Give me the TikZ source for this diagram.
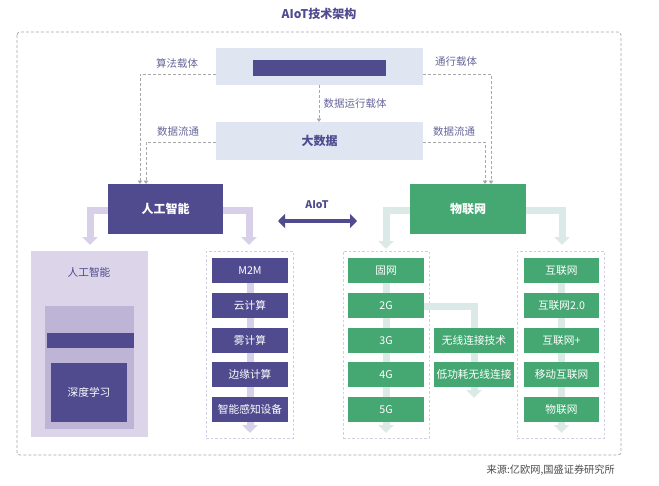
\documentclass[tikz,border=0pt]{standalone}
\usepackage{fontspec}
\setmainfont{Noto Sans CJK SC}
\usetikzlibrary{arrows.meta}
\definecolor{pdark}{HTML}{4F4B8E}
\definecolor{gmain}{HTML}{45A873}
\definecolor{lblue}{HTML}{DFE6F2}
\definecolor{parrow}{HTML}{D8D0E8}
\definecolor{garrow}{HTML}{DCEAE7}
\definecolor{ppanel}{HTML}{DCD4E9}
\definecolor{pinner}{HTML}{BDB4D6}
\definecolor{lbl}{HTML}{66659A}
\definecolor{dgray}{HTML}{A8A8A8}
\definecolor{ldash}{HTML}{D3CCE4}
\tikzset{
  box/.style={inner sep=0pt, outer sep=0pt, anchor=center},
  pitem/.style={box, fill=pdark, text=white, minimum width=76pt, minimum height=25pt, font=\fontsize{10.7}{12}\selectfont},
  gitem/.style={box, fill=gmain, text=white, minimum width=76pt, minimum height=25pt, font=\fontsize{10.7}{12}\selectfont},
  lab/.style={text=lbl, font=\fontsize{10.5}{12}\selectfont, inner sep=0pt},
  hdr/.style={box, text=white, minimum height=50pt, font=\bfseries\fontsize{12}{14}\selectfont},
  conn/.style={draw=dgray, dashed, dash pattern=on 3pt off 2pt, line width=0.8pt, -{Triangle[width=4.5pt,length=3.5pt]}},
  fatp/.style={draw=parrow, line width=7pt, -{Triangle[width=15pt,length=8pt]}},
  fatg/.style={draw=garrow, line width=7pt, -{Triangle[width=15pt,length=8pt]}},
  listbox/.style={box, draw=ldash, dashed, dash pattern=on 2.5pt off 2pt, line width=0.7pt, minimum width=87pt, minimum height=187pt},
}
\begin{document}
\begin{tikzpicture}[x=1pt,y=-1pt]
\useasboundingbox (0,0) rectangle (659,485);
% title
\node[text=pdark, font=\bfseries\fontsize{12}{14}\selectfont, inner sep=0pt] (title) at (319,14) {AIoT技术架构};
% outer frame
\draw[dgray, dashed, dash pattern=on 3pt off 2pt, line width=0.8pt, rounded corners=3pt] (17,32) rectangle (621,455);
% top boxes
\node[box, fill=lblue, minimum width=207pt, minimum height=37pt] (algo) at (319.5,66.5) {};
\node[box, fill=pdark, minimum width=133pt, minimum height=16pt] (algobar) at (319.5,68) {};
\node[box, fill=lblue, minimum width=207pt, minimum height=38pt, text=pdark, font=\bfseries\fontsize{12}{14}\selectfont] (bigdata) at (319.5,141) {大数据};
% header positions
\coordinate (aihc) at (165.5,209); \coordinate (iotc) at (468,209);
% fat arrows from headers (drawn first, headers on top)
\coordinate (fa1) at (90,245); \coordinate (fa2) at (249,245);
\coordinate (fg1) at (386,249); \coordinate (fg2) at (562,245);
\draw[fatp] (aihc |- 0,210) -- (fa1 |- 0,210) -- (fa1);
\draw[fatp] (aihc |- 0,210) -- (fa2 |- 0,210) -- (fa2);
\draw[fatg] (iotc |- 0,210) -- (fg1 |- 0,210) -- (fg1);
\draw[fatg] (iotc |- 0,210) -- (fg2 |- 0,210) -- (fg2);
% headers
\node[hdr, fill=pdark, minimum width=115pt] (aih) at (aihc) {人工智能};
\node[hdr, fill=gmain, minimum width=116pt] (iot) at (iotc) {物联网};
% dashed connectors
\coordinate (c1) at (140,74); \coordinate (c2) at (146,142);
\coordinate (c3) at (491,74); \coordinate (c4) at (485,142);
\draw[conn] (algo.west |- c1) -- (c1) -- (c1 |- aih.north);
\draw[conn] (bigdata.west |- c2) -- (c2) -- (c2 |- aih.north);
\draw[conn] (algo.east |- c3) -- (c3) -- (c3 |- iot.north);
\draw[conn] (bigdata.east |- c4) -- (c4) -- (c4 |- iot.north);
\draw[conn] (algo.south -| 319,0) -- (bigdata.north -| 319,0);
\node[lab] (l1) at (177,63) {算法载体};
\node[lab] (l2) at (456,62) {通行载体};
\node[lab] (l3) at (178,132) {数据流通};
\node[lab] (l4) at (454,132) {数据流通};
\node[lab] (l5) at (355,104) {数据运行载体};
% AIoT double arrow
\coordinate (aL) at (278,221); \coordinate (aR) at (357,221);
\draw[pdark, line width=4.5pt, {Triangle[width=14pt,length=7pt]}-{Triangle[width=14pt,length=7pt]}] (aL) -- (aR);
\node[text=pdark, font=\bfseries\fontsize{10.5}{12}\selectfont, inner sep=0pt] (aiotl) at (317,205) {AIoT};
% left panel
\node[box, fill=ppanel, minimum width=117pt, minimum height=186pt] (panel) at (89.5,344) {};
\node[text=pdark, font=\fontsize{10.7}{12}\selectfont, inner sep=0pt] (panell) at (89,272) {人工智能};
\node[box, fill=pinner, minimum width=89pt, minimum height=123pt] (inner) at (89.5,367.5) {};
\node[box, fill=pdark, minimum width=87pt, minimum height=15pt] (innerbar) at (90.5,340.5) {};
\node[box, fill=pdark, text=white, minimum width=76pt, minimum height=59pt, font=\fontsize{10.7}{12}\selectfont] (deep) at (89,392.5) {深度学习};
% list boxes
\node[listbox] (lb1) at (249.5,344.5) {};
\node[listbox, minimum width=86pt] (lb2) at (386,344.5) {};
\node[listbox] (lb3) at (560.5,344.5) {};
% background arrows for lists
\coordinate (t1) at (250,433); \coordinate (t2) at (386,433); \coordinate (t3) at (561.5,433);
\draw[fatp] (250,270) -- (t1);
\draw[fatg] (386,270) -- (t2);
\draw[fatg] (561.5,270) -- (t3);
\coordinate (t4) at (474,398);
\draw[fatg] (386,306) -- (474,306) -- (t4);
% column 1
\node[pitem] (p1) at (250,270.5) {M2M};
\node[pitem] (p2) at (250,305.5) {云计算};
\node[pitem] (p3) at (250,340.5) {雾计算};
\node[pitem] (p4) at (250,374.5) {边缘计算};
\node[pitem] (p5) at (250,409.5) {智能感知设备};
% column 2
\node[gitem] (g1) at (386,270.5) {固网};
\node[gitem] (g2) at (386,305.5) {2G};
\node[gitem] (g3) at (386,340.5) {3G};
\node[gitem] (g4) at (386,374.5) {4G};
\node[gitem] (g5) at (386,409.5) {5G};
% wireless
\node[gitem, minimum width=80pt] (w1) at (474,340.5) {无线连接技术};
\node[gitem, minimum width=80pt] (w2) at (474,374.5) {低功耗无线连接};
% column 3
\node[gitem, minimum width=75pt] (i1) at (561.5,270.5) {互联网};
\node[gitem, minimum width=75pt] (i2) at (561.5,305.5) {互联网2.0};
\node[gitem, minimum width=75pt] (i3) at (561.5,340.5) {互联网+};
\node[gitem, minimum width=75pt] (i4) at (561.5,374.5) {移动互联网};
\node[gitem, minimum width=75pt] (i5) at (561.5,409.5) {物联网};
% source
\node[text=black!70, font=\fontsize{10.2}{11}\selectfont, inner sep=0pt, anchor=east] (src) at (615,470) {来源:亿欧网,国盛证券研究所};
\end{tikzpicture}
\end{document}
